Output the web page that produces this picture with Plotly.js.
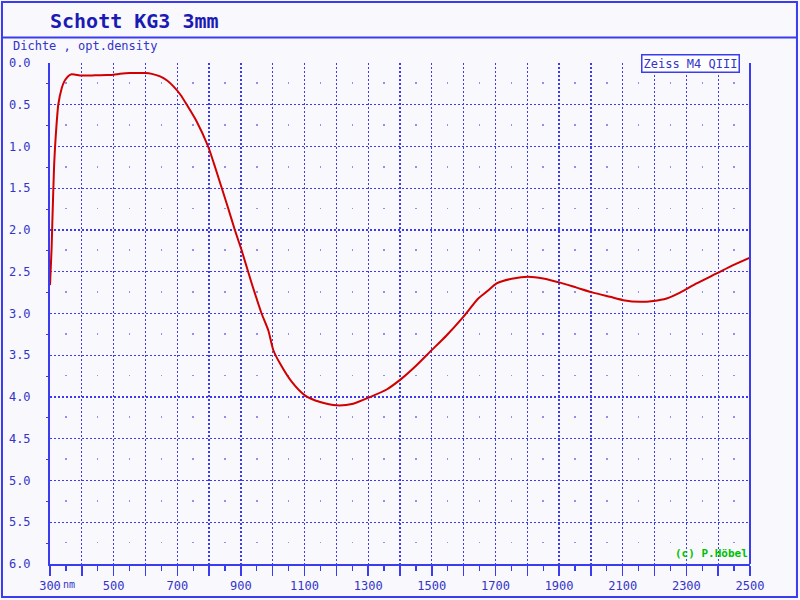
<!DOCTYPE html>
<html>
<head>
<meta charset="utf-8">
<script src="https://cdn.plot.ly/plotly-3.0.1.min.js"></script>
<style>html,body{margin:0;padding:0;background:#f8f8fd;}#chart{width:800px;height:600px;}</style>
</head>
<body>
<div id="chart"></div>
<script>
// Wavelength (nm) and optical density
const wavelength = [300,303,305,308,311,313,316,319,326,337,345,352,360,368,380,400,440,478,500,520,551,580,599,620,646,668,688,710,730,761,797,820,840,860,881,902,934,965,986,1002,1023,1060,1101,1149,1201,1253,1306,1358,1405,1452,1494,1547,1599,1646,1672,1704,1756,1803,1850,1903,1955,2007,2060,2102,2154,2196,2238,2280,2332,2395,2447,2500];
const density = [2.66,2.40,2.22,1.82,1.45,1.22,1.00,0.82,0.50,0.30,0.22,0.18,0.15,0.135,0.14,0.15,0.148,0.144,0.14,0.13,0.12,0.12,0.12,0.13,0.16,0.21,0.28,0.38,0.50,0.70,1.00,1.26,1.50,1.74,2.00,2.24,2.64,3.00,3.20,3.44,3.60,3.82,3.98,4.06,4.10,4.08,4.00,3.91,3.78,3.62,3.46,3.26,3.04,2.82,2.74,2.64,2.58,2.56,2.58,2.63,2.69,2.75,2.80,2.84,2.86,2.85,2.82,2.75,2.64,2.52,2.42,2.33];

const xTickVals = [300,400,500,600,700,800,900,1000,1100,1200,1300,1400,1500,1600,1700,1800,1900,2000,2100,2200,2300,2400,2500];
const xTickText = ['300','','500','','700','','900','','1100','','1300','','1500','','1700','','1900','','2100','','2300','','2500'];
const xMinorVals = [350,450,550,650,750,850,950,1050,1150,1250,1350,1450,1550,1650,1750,1850,1950,2050,2150,2250,2350,2450];
const yTickVals = [0,0.5,1,1.5,2,2.5,3,3.5,4,4.5,5,5.5,6];
const yTickText = ['0.0','0.5','1.0','1.5','2.0','2.5','3.0','3.5','4.0','4.5','5.0','5.5','6.0'];
const yMinorVals = [0.25,0.75,1.25,1.75,2.25,2.75,3.25,3.75,4.25,4.75,5.25,5.75];

const BLUE = '#3b3bf0';
const TXT = '#3434c8';
const MONO = 'DejaVu Sans Mono, Liberation Mono, monospace';

const trace = {
  x: wavelength, y: density, type: 'scatter', mode: 'lines',
  line: {color: '#d00000', width: 2, shape: 'spline', smoothing: 0.6}, hoverinfo: 'skip', showlegend: false
};

const layout = {
  width: 800, height: 600,
  margin: {l: 50, r: 50, t: 63, b: 36},
  paper_bgcolor: '#f8f8fd', plot_bgcolor: '#f8f8fd',
  showlegend: false,
  xaxis: {
    range: [300, 2500], tickmode: 'array', tickvals: xTickVals, ticktext: xTickText,
    showgrid: true, gridcolor: BLUE, gridwidth: 1.2, griddash: '1.5px,2.5px',
    zeroline: false, showline: true, linecolor: BLUE, linewidth: 2,
    ticks: 'outside', ticklen: 10, tickcolor: BLUE, tickwidth: 1.5,
    tickfont: {family: MONO, size: 12, color: TXT},
    minor: {tickmode: 'array', tickvals: xMinorVals, ticks: 'outside', ticklen: 5, tickcolor: BLUE, tickwidth: 1.2,
            showgrid: true, gridcolor: '#9090f0', gridwidth: 1.5, griddash: '0px,19.4px,1.6px,20.75px'}
  },
  xaxis2: {
    range: [300, 2500], overlaying: 'x', anchor: 'y', side: 'bottom',
    tickmode: 'array', tickvals: xTickVals, ticks: 'inside', ticklen: 8, tickcolor: BLUE, tickwidth: 1.5,
    showticklabels: false, showgrid: false, zeroline: false, showline: false
  },
  yaxis: {
    range: [6, 0], tickmode: 'array', tickvals: yTickVals, ticktext: yTickText,
    showgrid: true, gridcolor: BLUE, gridwidth: 1.2, griddash: '1.5px,2.5px',
    zeroline: false, showline: true, linecolor: BLUE, linewidth: 2,
    ticks: '', ticklabelstandoff: 15,
    tickfont: {family: MONO, size: 12, color: TXT},
    minor: {tickmode: 'array', tickvals: yMinorVals, ticks: 'outside', ticklen: 2, tickcolor: BLUE, showgrid: false}
  },
  shapes: [
    {type: 'rect', xref: 'paper', yref: 'paper', x0: -0.0686, x1: 1.0671, y0: -0.0659, y1: 1.1218,
     line: {color: BLUE, width: 2}, layer: 'above'},
    {type: 'line', xref: 'paper', yref: 'paper', x0: -0.0686, x1: 1.0671, y0: 1.0509, y1: 1.0509,
     line: {color: BLUE, width: 2}, layer: 'above'},
    {type: 'line', xref: 'paper', yref: 'paper', x0: 1, x1: 1, y0: 0, y1: 1,
     line: {color: BLUE, width: 2}, layer: 'above'}
  ],
  annotations: [
    {text: '<b>Schott KG3 3mm</b>', xref: 'paper', yref: 'paper', x: -0.003, y: 1.083, xanchor: 'left', yanchor: 'middle',
     showarrow: false, font: {family: MONO, size: 20, color: '#1a1ab4'}},
    {text: 'Dichte , opt.density', xref: 'paper', yref: 'paper', x: -0.056, y: 1.034, xanchor: 'left', yanchor: 'middle',
     showarrow: false, font: {family: MONO, size: 12, color: TXT}},
    {text: 'Zeiss M4 QIII', xref: 'paper', yref: 'paper', x: 0.986, y: 1.0, xanchor: 'right', yanchor: 'middle',
     showarrow: false, font: {family: MONO, size: 12, color: TXT}, bgcolor: '#ffffff', bordercolor: BLUE, borderwidth: 1.5, borderpad: 1},
    {text: '<b>(c) P.Höbel</b>', xref: 'paper', yref: 'paper', x: 1.0, y: 0.004, xanchor: 'right', yanchor: 'bottom',
     showarrow: false, font: {family: MONO, size: 11, color: '#00c000'}},
    {text: 'nm', xref: 'paper', yref: 'paper', x: 0.016, y: -0.04, xanchor: 'left', yanchor: 'middle',
     showarrow: false, font: {family: MONO, size: 10, color: TXT}}
  ]
};

Plotly.newPlot('chart', [trace], layout, {staticPlot: true, displayModeBar: false});
</script>
</body>
</html>
